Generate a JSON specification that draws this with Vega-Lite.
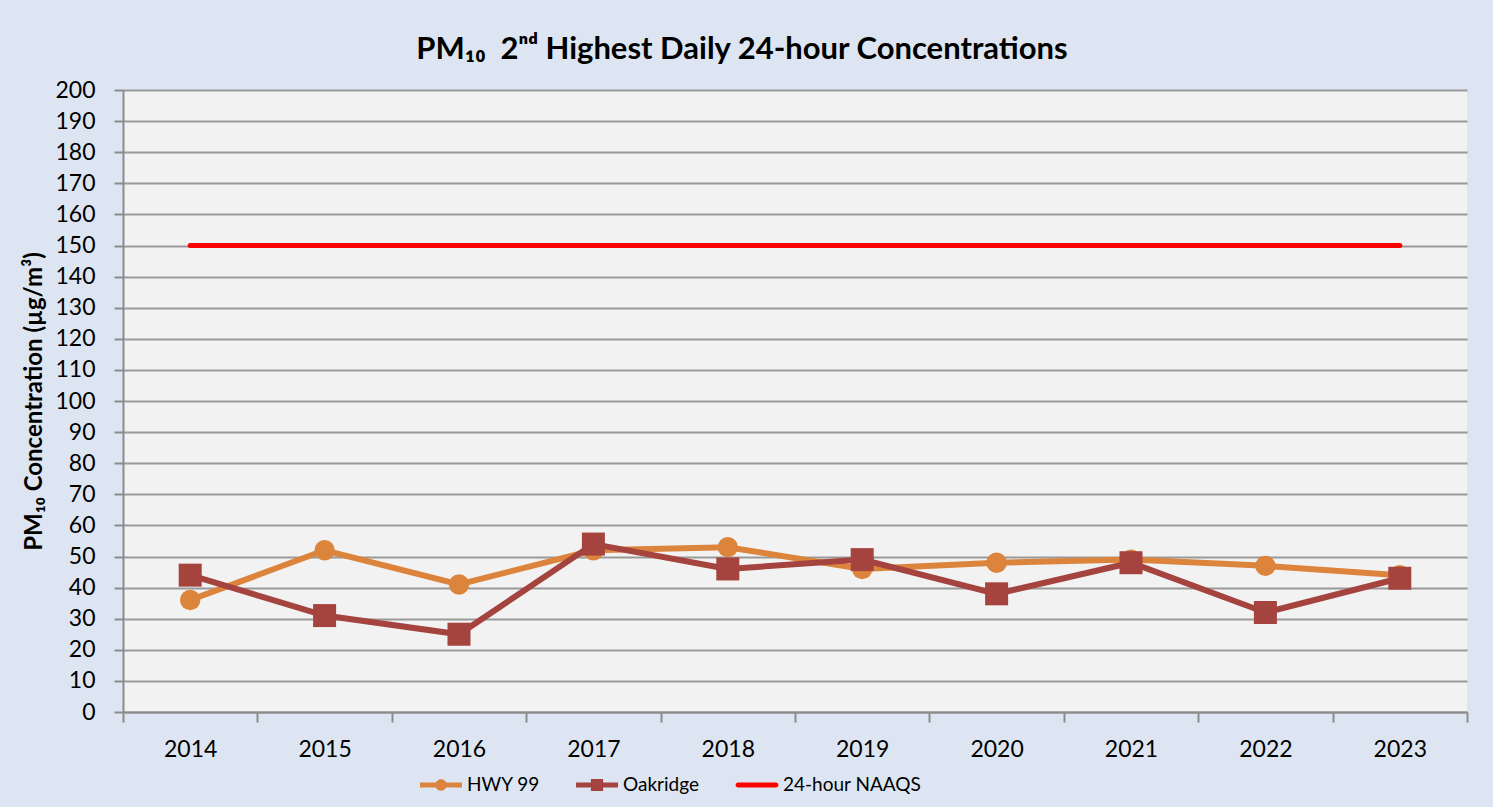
{
  "$schema": "https://vega.github.io/schema/vega-lite/v6.json",
  "width": 1344,
  "height": 622,
  "autosize": {"type": "none"},
  "padding": {"left": 123, "top": 90, "right": 26, "bottom": 95},
  "background": "#dce5f1",
  "title": {
    "text": "PM₁₀\u00a0\u00a02ⁿᵈ Highest Daily 24-hour Concentrations",
    "font": "Lato",
    "fontSize": 31,
    "fontWeight": "bold",
    "color": "#000000",
    "anchor": "middle",
    "frame": "group",
    "dx": -53,
    "baseline": "bottom",
    "offset": -18
  },
  "config": {
    "view": {"fill": "#f2f2f2", "stroke": null},
    "font": "Lato"
  },
  "data": {
    "values": [
      {"year": "2014", "series": "HWY 99", "value": 36},
      {"year": "2015", "series": "HWY 99", "value": 52},
      {"year": "2016", "series": "HWY 99", "value": 41},
      {"year": "2017", "series": "HWY 99", "value": 52},
      {"year": "2018", "series": "HWY 99", "value": 53},
      {"year": "2019", "series": "HWY 99", "value": 46},
      {"year": "2020", "series": "HWY 99", "value": 48},
      {"year": "2021", "series": "HWY 99", "value": 49},
      {"year": "2022", "series": "HWY 99", "value": 47},
      {"year": "2023", "series": "HWY 99", "value": 44},
      {"year": "2014", "series": "Oakridge", "value": 44},
      {"year": "2015", "series": "Oakridge", "value": 31},
      {"year": "2016", "series": "Oakridge", "value": 25},
      {"year": "2017", "series": "Oakridge", "value": 54},
      {"year": "2018", "series": "Oakridge", "value": 46},
      {"year": "2019", "series": "Oakridge", "value": 49},
      {"year": "2020", "series": "Oakridge", "value": 38},
      {"year": "2021", "series": "Oakridge", "value": 48},
      {"year": "2022", "series": "Oakridge", "value": 32},
      {"year": "2023", "series": "Oakridge", "value": 43},
      {"year": "2014", "series": "24-hour NAAQS", "value": 150},
      {"year": "2015", "series": "24-hour NAAQS", "value": 150},
      {"year": "2016", "series": "24-hour NAAQS", "value": 150},
      {"year": "2017", "series": "24-hour NAAQS", "value": 150},
      {"year": "2018", "series": "24-hour NAAQS", "value": 150},
      {"year": "2019", "series": "24-hour NAAQS", "value": 150},
      {"year": "2020", "series": "24-hour NAAQS", "value": 150},
      {"year": "2021", "series": "24-hour NAAQS", "value": 150},
      {"year": "2022", "series": "24-hour NAAQS", "value": 150},
      {"year": "2023", "series": "24-hour NAAQS", "value": 150}
    ]
  },
  "encoding": {
    "x": {
      "field": "year",
      "type": "ordinal",
      "scale": {"type": "band", "paddingInner": 0, "paddingOuter": 0},
      "axis": {
        "title": null,
        "labelAngle": 0,
        "labelFont": "Lato",
        "labelFontSize": 23,
        "labelColor": "#000000",
        "labelPadding": 16,
        "tickBand": "extent",
        "tickSize": 10,
        "tickColor": "#8c8c8c",
        "tickWidth": 2,
        "domainColor": "#8c8c8c",
        "domainWidth": 2,
        "grid": false
      }
    },
    "y": {
      "field": "value",
      "type": "quantitative",
      "scale": {"domain": [0, 200], "nice": false},
      "axis": {
        "title": "PM₁₀ Concentration (µg/m³)",
        "titleFont": "Lato",
        "titleFontSize": 24,
        "titleFontWeight": "bold",
        "titleColor": "#000000",
        "titlePadding": 8,
        "values": [0, 10, 20, 30, 40, 50, 60, 70, 80, 90, 100, 110, 120, 130, 140, 150, 160, 170, 180, 190, 200],
        "labelFont": "Lato",
        "labelFontSize": 23,
        "labelColor": "#000000",
        "labelPadding": 19,
        "tickSize": 9,
        "tickColor": "#8c8c8c",
        "tickWidth": 2,
        "domainColor": "#8c8c8c",
        "domainWidth": 2,
        "grid": true,
        "gridColor": "#999999",
        "gridWidth": 2
      }
    },
    "color": {
      "field": "series",
      "type": "nominal",
      "scale": {
        "domain": ["HWY 99", "Oakridge", "24-hour NAAQS"],
        "range": ["#dc843c", "#a5433f", "#ff0000"]
      },
      "legend": {
        "title": null,
        "orient": "none",
        "direction": "horizontal",
        "legendX": 297,
        "legendY": 674,
        "padding": 0,
        "symbolSize": 1764,
        "labelFont": "Lato",
        "labelFontSize": 19,
        "labelColor": "#000000",
        "labelOffset": 5,
        "columnPadding": 36,
        "encode": {
          "symbols": {
            "update": {
              "shape": {"signal": "datum.value === 'HWY 99' ? 'M-1,-0.12H1V0.12H-1Z M0.27,0A0.27,0.27 0 1 1 -0.27,0A0.27,0.27 0 1 1 0.27,0Z' : (datum.value === 'Oakridge' ? 'M-1,-0.12H1V0.12H-1Z M-0.29,-0.29H0.29V0.29H-0.29Z' : 'M-0.9,-0.12H0.9A0.12,0.12 0 0 1 0.9,0.12H-0.9A0.12,0.12 0 0 1 -0.9,-0.12Z')"},
              "fill": {"signal": "scale('color', datum.value)"},
              "stroke": {"value": "transparent"},
              "strokeWidth": {"value": 0},
              "opacity": {"value": 1},
              "fillOpacity": {"value": 1},
              "size": {"value": 1764}
            }
          }
        }
      }
    }
  },
  "layer": [
    {
      "transform": [{"filter": "datum.series === 'HWY 99'"}],
      "mark": {"type": "line", "strokeWidth": 6}
    },
    {
      "transform": [{"filter": "datum.series === 'HWY 99'"}],
      "mark": {"type": "point", "shape": "circle", "filled": true, "opacity": 1, "size": 415}
    },
    {
      "transform": [{"filter": "datum.series === 'Oakridge'"}],
      "mark": {"type": "line", "strokeWidth": 6}
    },
    {
      "transform": [{"filter": "datum.series === 'Oakridge'"}],
      "mark": {"type": "point", "shape": "square", "filled": true, "opacity": 1, "size": 529}
    },
    {
      "transform": [{"filter": "datum.series === '24-hour NAAQS'"}],
      "mark": {"type": "line", "strokeWidth": 5, "strokeCap": "round"}
    }
  ]
}
